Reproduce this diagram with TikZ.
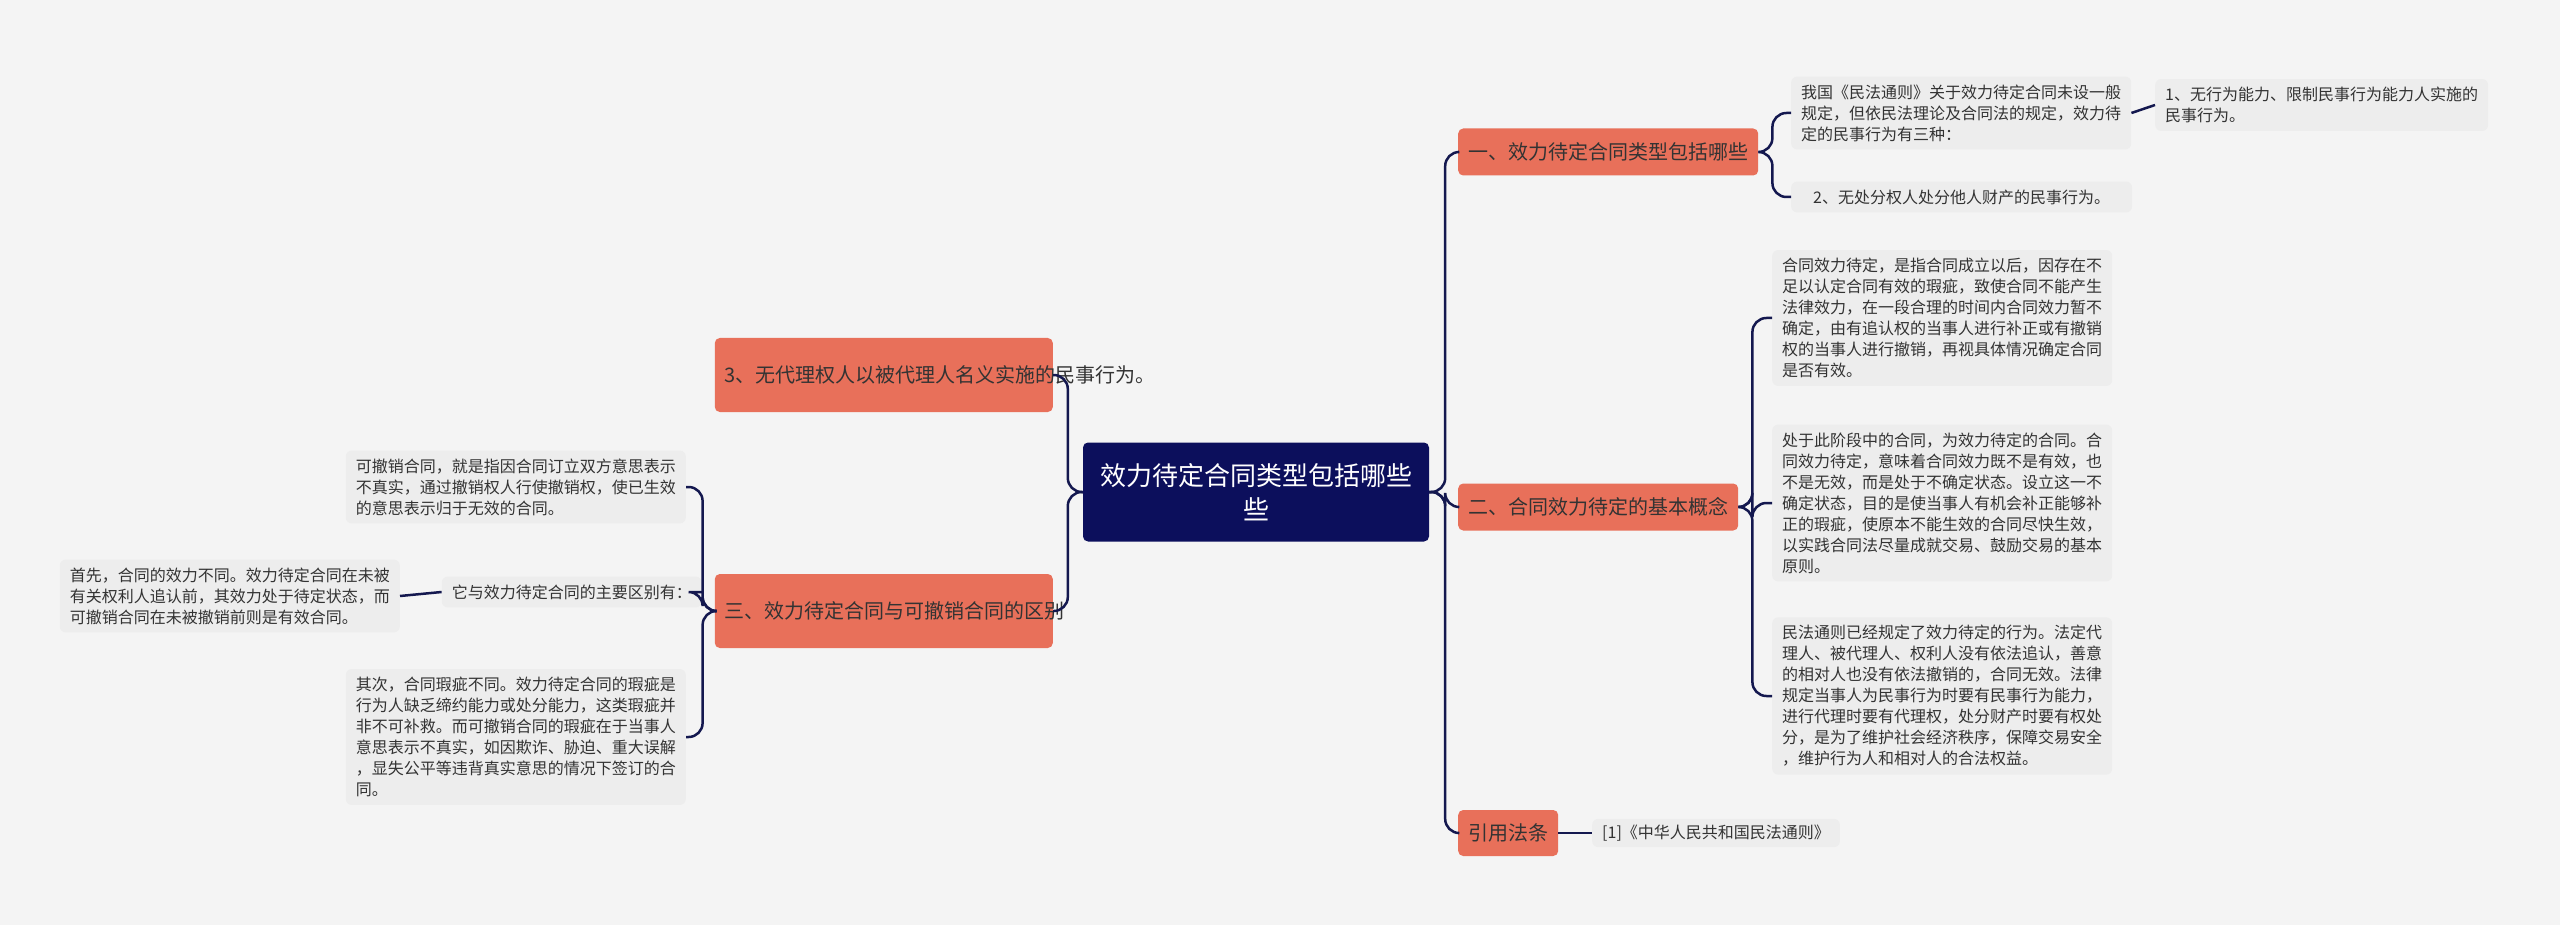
\documentclass[tikz,border=0pt]{standalone}
\usepackage{fontspec}
\setmainfont{Noto Sans CJK SC}
\definecolor{bgc}{HTML}{F4F4F4}
\definecolor{leafc}{HTML}{EDEDED}
\definecolor{rootc}{HTML}{0C0F5C}
\definecolor{branchc}{HTML}{E8705A}
\definecolor{linec}{HTML}{14184F}
\definecolor{txtc}{HTML}{333333}
\tikzset{
  rootbox/.style={fill=rootc, text=white, rounded corners=5pt, align=center, inner xsep=14pt, inner ysep=10pt, font=\fontsize{26}{34}\selectfont},
  branchbox/.style={fill=branchc, text=txtc, rounded corners=5pt, align=left, inner xsep=10pt, inner ysep=9pt, font=\fontsize{20}{28}\selectfont},
  leafbox/.style={fill=leafc, text=txtc, rounded corners=6pt, align=left, inner xsep=10pt, inner ysep=8pt, font=\fontsize{16}{21}\selectfont},
  conn/.style={draw=linec, line width=2.5pt, rounded corners=14pt},
}
\begin{document}
\begin{tikzpicture}[x=1pt,y=-1pt]
\fill[bgc] (0,0) rectangle (2560,925);
\useasboundingbox (0,0) rectangle (2560,925);

% root
\node[rootbox, minimum width=346pt, minimum height=99pt] (root) at (1256,492) {效力待定合同类型包括哪些\\些};

% right branches
\node[branchbox, anchor=west, minimum height=47pt] (br1) at (1458,152) {一、效力待定合同类型包括哪些};
\node[branchbox, anchor=west, minimum height=47pt] (br2) at (1458,507) {二、合同效力待定的基本概念};
\node[branchbox, anchor=west, minimum height=46pt] (br3) at (1458,833) {引用法条};

% left branches
\node[branchbox, anchor=east, text width=318pt, minimum height=74pt] (bl1) at (1053,375) {3、无代理权人以被代理人名义实施的民事行为。};
\node[branchbox, anchor=east, text width=318pt, minimum height=74pt] (bl2) at (1053,611) {三、效力待定合同与可撤销合同的区别};

% leaves of br1
\node[leafbox, anchor=west] (la) at (1791,113) {我国《民法通则》关于效力待定合同未设一般\\规定，但依民法理论及合同法的规定，效力待\\定的民事行为有三种：};
\node[leafbox, anchor=west] (la1) at (2155,105) {1、无行为能力、限制民事行为能力人实施的\\民事行为。};
\node[leafbox, anchor=west, inner xsep=22pt] (la2) at (1791,197) {2、无处分权人处分他人财产的民事行为。};

% leaves of br2
\node[leafbox, anchor=west] (lb1) at (1772,318) {合同效力待定，是指合同成立以后，因存在不\\足以认定合同有效的瑕疵，致使合同不能产生\\法律效力，在一段合理的时间内合同效力暂不\\确定，由有追认权的当事人进行补正或有撤销\\权的当事人进行撤销，再视具体情况确定合同\\是否有效。};
\node[leafbox, anchor=west] (lb2) at (1772,503) {处于此阶段中的合同，为效力待定的合同。合\\同效力待定，意味着合同效力既不是有效，也\\不是无效，而是处于不确定状态。设立这一不\\确定状态，目的是使当事人有机会补正能够补\\正的瑕疵，使原本不能生效的合同尽快生效，\\以实践合同法尽量成就交易、鼓励交易的基本\\原则。};
\node[leafbox, anchor=west] (lb3) at (1772,696) {民法通则已经规定了效力待定的行为。法定代\\理人、被代理人、权利人没有依法追认，善意\\的相对人也没有依法撤销的，合同无效。法律\\规定当事人为民事行为时要有民事行为能力，\\进行代理时要有代理权，处分财产时要有权处\\分，是为了维护社会经济秩序，保障交易安全\\，维护行为人和相对人的合法权益。};

% leaf of br3
\node[leafbox, anchor=west, inner ysep=6pt] (lc1) at (1592,833) {[1]《中华人民共和国民法通则》};

% leaves of bl2
\node[leafbox, anchor=east] (ld1) at (686,487) {可撤销合同，就是指因合同订立双方意思表示\\不真实，通过撤销权人行使撤销权，使已生效\\的意思表示归于无效的合同。};
\node[leafbox, anchor=east] (ld2) at (702,592) {它与效力待定合同的主要区别有：};
\node[leafbox, anchor=east] (ld2a) at (400,596) {首先，合同的效力不同。效力待定合同在未被\\有关权利人追认前，其效力处于待定状态，而\\可撤销合同在未被撤销前则是有效合同。};
\node[leafbox, anchor=east] (ld3) at (686,737) {其次，合同瑕疵不同。效力待定合同的瑕疵是\\行为人缺乏缔约能力或处分能力，这类瑕疵并\\非不可补救。而可撤销合同的瑕疵在于当事人\\意思表示不真实，如因欺诈、胁迫、重大误解\\，显失公平等违背真实意思的情况下签订的合\\同。};

% connectors, right side
\foreach \c in {br1,br2,br3}
  \draw[conn] (root.east) -- ++(16,0) |- (\c.west);
\foreach \c in {la,la2}
  \draw[conn] (br1.east) -- ++(14,0) |- (\c.west);
\draw[conn] (la.east) -- (la1.west);
\foreach \c in {lb1,lb2,lb3}
  \draw[conn] (br2.east) -- ++(14,0) |- (\c.west);
\draw[conn] (br3.east) -- (lc1.west);

% connectors, left side
\foreach \c in {bl1,bl2}
  \draw[conn] (root.west) -- ++(-15,0) |- (\c.east);
\foreach \c in {ld1,ld2,ld3}
  \draw[conn] (bl2.west) -- ++(-12,0) |- (\c.east);
\draw[conn] (ld2.west) -- (ld2a.east);

\end{tikzpicture}
\end{document}
